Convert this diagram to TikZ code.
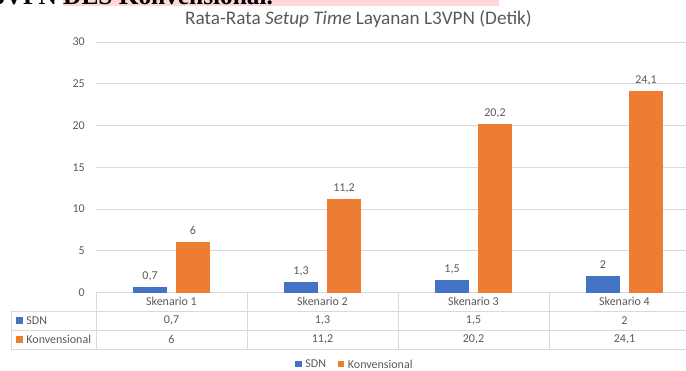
\documentclass[tikz,border=0pt]{standalone}
\usepackage{fontspec}
\setmainfont{Carlito}
\newfontfamily\docfont{Liberation Serif}
\usepackage{tikz}
\usetikzlibrary{positioning}

\definecolor{sdnblue}{HTML}{4472C4}
\definecolor{konvorange}{HTML}{ED7D31}
\definecolor{gridgray}{HTML}{D9D9D9}
\definecolor{labgray}{HTML}{595959}
\definecolor{markpink}{HTML}{FFD6DA}

\begin{document}
\begin{tikzpicture}[x=0.75pt, y=-0.75pt,
  lab/.style={font=\fontsize{9}{10}\selectfont, text=labgray, inner sep=0pt},
  gridline/.style={draw=gridgray, line width=0.75pt},
  keybox/.style={minimum size=5.2pt, inner sep=0pt}]

\useasboundingbox (0,0) rectangle (686,371);

% --- Cut-off line of the page above the chart ---
\begin{scope}
  \clip (0,0) rectangle (686,6);
  \fill[markpink] (63,0) rectangle (499,6);
  \node[font=\docfont\fontsize{19}{21}\selectfont\bfseries, anchor=base west, inner sep=0pt]
    (doctext) at (-25,5) {L3VPN DES Konvensional.};
\end{scope}

% --- Title ---
\node[font=\fontsize{14.4}{16}\selectfont, text=labgray] (title) at (358.5,19)
  {Rata-Rata \textit{Setup Time} Layanan L3VPN (Detik)};

% --- Gridlines and y labels ---
\foreach \v in {0,5,...,30} {
  \pgfmathsetmacro\yy{292.5-\v*8.35}
  \draw[gridline] (96,\yy) -- (686,\yy);
  \node[lab, anchor=east] (ylab\v) at (85,\yy) {\v};
}

% --- Bars and data labels ---
\foreach \i/\s/\sl/\k/\kl in {1/0.7/{0,7}/6/6, 2/1.3/{1,3}/11.2/{11,2},
                              3/1.5/{1,5}/20.2/{20,2}, 4/2/2/24.1/{24,1}} {
  \pgfmathsetmacro\cx{96+151*(\i-0.5)}
  \pgfmathsetmacro\stop{292.5-\s*8.35}
  \pgfmathsetmacro\ktop{292.5-\k*8.35}
  \fill[sdnblue] (\cx-38.5,292.5) rectangle (\cx-4.5,\stop);
  \fill[konvorange] (\cx+4.5,292.5) rectangle (\cx+38.5,\ktop);
  \node[lab, anchor=base] (sval\i) at (\cx-21.5,\stop-7.5) {\sl};
  \node[lab, anchor=base] (kval\i) at (\cx+21.5,\ktop-7.5) {\kl};
  % table cells
  \node[lab] (head\i) at (\cx,301.5) {Skenario \i};
  \node[lab] (srow\i) at (\cx,320.5) {\sl};
  \node[lab] (krow\i) at (\cx,339.5) {\kl};
}

% --- Data table lines ---
\foreach \yy in {311,330,349}
  \draw[gridline] (11,\yy) -- (686,\yy);
\draw[gridline] (11,311) -- (11,349);
\foreach \xx in {96,247,398,549}
  \draw[gridline] (\xx,292.5) -- (\xx,349);

% --- Row keys ---
\node[keybox, fill=sdnblue] (skey) at (19.5,320.5) {};
\node[lab, right=2.2pt of skey] (sname) {SDN};
\node[keybox, fill=konvorange] (kkey) at (19.5,339.5) {};
\node[lab, right=2.2pt of kkey] (kname) {Konvensional};

% --- Legend ---
\node[keybox, fill=sdnblue] (legs) at (298.5,364) {};
\node[lab, right=2.2pt of legs] (legstext) {SDN};
\node[keybox, fill=konvorange] (legk) at (341,364) {};
\node[lab, right=2.2pt of legk] (legktext) {Konvensional};

\end{tikzpicture}
\end{document}
